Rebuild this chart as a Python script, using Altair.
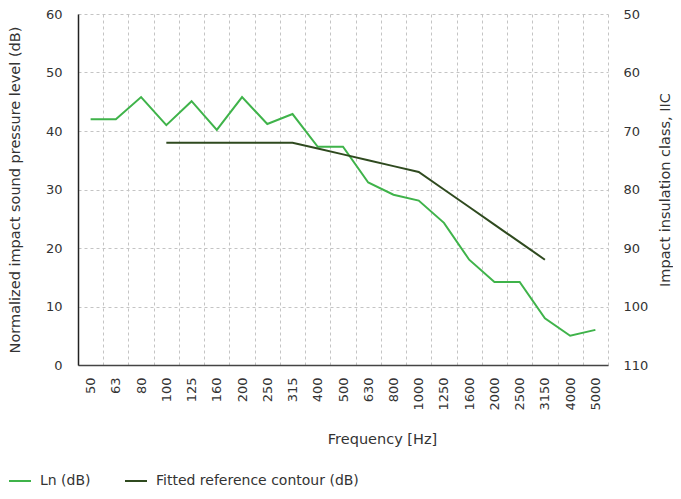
import altair as alt
import pandas as pd

freqs = ["50", "63", "80", "100", "125", "160", "200", "250", "315", "400", "500",
         "630", "800", "1000", "1250", "1600", "2000", "2500", "3150", "4000", "5000"]
ln_values = [42, 42, 45.8, 41, 45.1, 40.2, 45.8, 41.2, 42.9, 37.3, 37.3,
             31.2, 29.1, 28.1, 24.3, 18, 14.2, 14.2, 8, 5, 6]
fit_freqs = ["100", "125", "160", "200", "250", "315", "400", "500",
             "630", "800", "1000", "1250", "1600", "2000", "2500", "3150"]
fit_values = [38, 38, 38, 38, 38, 38, 37, 36, 35, 34, 33, 30, 27, 24, 21, 18]
iic_ticks = [50, 60, 70, 80, 90, 100, 110]
ln_ticks = [0, 10, 20, 30, 40, 50, 60]

series_names = ["Ln (dB)", "Fitted reference contour (dB)"]
series_colors = ["#3fb34a", "#2f4a1f"]

df = pd.concat([
    pd.DataFrame({"freq": freqs, "value": ln_values, "series": series_names[0]}),
    pd.DataFrame({"freq": fit_freqs, "value": fit_values, "series": series_names[1]}),
])
df_iic = pd.DataFrame({"iic": iic_ticks})

FONT = "DejaVu Sans"
TXT = "#333333"
GRID = "#c4c4c4"
TITLE_SIZE = 14.5

x_enc = alt.X(
    "freq:N", sort=freqs,
    scale=alt.Scale(type="band", domain=freqs, paddingInner=0, paddingOuter=0),
    axis=alt.Axis(
        title="Frequency [Hz]", tickBand="extent", grid=True, gridDash=[3, 3],
        gridColor=GRID, ticks=False, labelAngle=270, labelPadding=12,
        domainColor="#444444", domainWidth=1.5,
        titleX=304, titleY=78, titleBaseline="alphabetic", titleAlign="center",
    ),
)

lines = alt.Chart(df).mark_line(strokeWidth=2).encode(
    x=x_enc,
    y=alt.Y(
        "value:Q",
        scale=alt.Scale(domain=[0, 60], nice=False, zero=True),
        axis=alt.Axis(
            title="Normalized impact sound pressure level (dB)", values=ln_ticks,
            grid=True, gridDash=[3, 3], gridColor=GRID, ticks=False,
            labelPadding=16, domainColor="#222222", domainWidth=1.5,
            titleAngle=270, titleX=-59, titleY=175.5, titleBaseline="alphabetic",
            titleAlign="center",
        ),
    ),
    color=alt.Color(
        "series:N",
        scale=alt.Scale(domain=series_names, range=series_colors),
        legend=alt.Legend(
            title=None, orient="none", legendX=-70, legendY=455, direction="horizontal",
            symbolType="stroke", symbolSize=484, symbolStrokeWidth=2,
            labelOffset=8, columnPadding=30, labelLimit=400,
        ),
    ),
    detail="series:N",
)

right_axis = alt.Chart(df_iic).mark_point(opacity=0).encode(
    y=alt.Y(
        "iic:Q",
        scale=alt.Scale(domain=[50, 110], reverse=True, nice=False, zero=False),
        axis=alt.Axis(
            orient="right", title="Impact insulation class, IIC", values=iic_ticks,
            grid=False, ticks=False, domain=False, labelPadding=15,
            titleAngle=270, titleX=61, titleY=175.5, titleBaseline="alphabetic",
            titleAlign="center",
        ),
    ),
)

chart = alt.layer(lines, right_axis).resolve_scale(y="independent").properties(
    width=530, height=351,
    autosize=alt.AutoSizeParams(type="none"),
    padding={"left": 70, "top": 6, "right": 65, "bottom": 126},
).configure_view(stroke=None).configure_axis(
    labelFont=FONT, titleFont=FONT, labelFontSize=13, titleFontSize=TITLE_SIZE,
    labelColor=TXT, titleColor=TXT, titleFontWeight="normal",
).configure_legend(
    labelFont=FONT, labelFontSize=14, labelColor=TXT,
)

chart.save("out.html", embed_options={"renderer": "svg", "actions": False})
